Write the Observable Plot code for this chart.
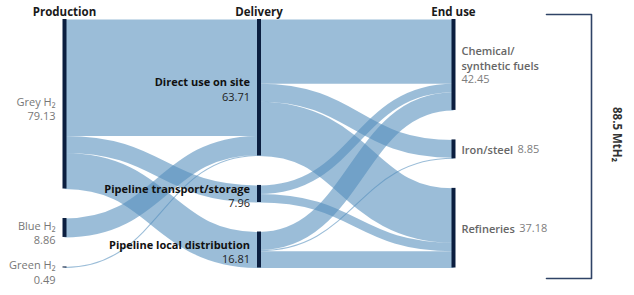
<!DOCTYPE html>
<html>
<head>
<meta charset="utf-8">
<script src="https://cdn.jsdelivr.net/npm/d3@7"></script>
<script src="https://cdn.jsdelivr.net/npm/@observablehq/plot@0.6"></script>
<style>
  html, body { margin: 0; padding: 0; background: #fff; }
  svg { display: block; }
</style>
</head>
<body>
<div id="chart"></div>
<script>
// ---------------- data ----------------
const stages = ["Production", "Delivery", "End use"];

const productionNodes = ["Grey H₂", "Blue H₂", "Green H₂"];
const productionValues = [79.13, 8.86, 0.49];

const deliveryNodes = ["Direct use on site", "Pipeline transport/storage", "Pipeline local distribution"];
const deliveryValues = [63.71, 7.96, 16.81];

const endUseNodes = ["Chemical/\nsynthetic fuels", "Iron/steel", "Refineries"];
const endUseValues = [42.45, 8.85, 37.18];

const linkSources = [
  "Grey H₂", "Grey H₂", "Grey H₂", "Blue H₂", "Green H₂",
  "Direct use on site", "Direct use on site", "Direct use on site",
  "Pipeline transport/storage", "Pipeline transport/storage",
  "Pipeline local distribution", "Pipeline local distribution", "Pipeline local distribution"
];
const linkTargets = [
  "Direct use on site", "Pipeline transport/storage", "Pipeline local distribution", "Direct use on site", "Direct use on site",
  "Chemical/\nsynthetic fuels", "Iron/steel", "Refineries",
  "Chemical/\nsynthetic fuels", "Refineries",
  "Chemical/\nsynthetic fuels", "Iron/steel", "Refineries"
];
const linkValues = [
  54.36, 7.96, 16.81, 8.86, 0.49,
  30.00, 8.35, 25.36,
  4.00, 3.96,
  8.45, 0.50, 7.86
];

const totalLabel = "88.5 MtH₂";

// ---------------- layout (sankey, computed in value units) ----------------
const fmt = d3.format(".2f");
const font = "'Open Sans', sans-serif";
const yTop = 19, yBottom = 267.5, padPx = 29.5;
const colPx = [64, 258.5, 453];

const columns = [[productionNodes, productionValues], [deliveryNodes, deliveryValues], [endUseNodes, endUseValues]];
const colTotal = d3.max(columns, ([, v]) => d3.sum(v));
const k = (yBottom - yTop - 2 * padPx) / colTotal;   // px per unit
const pad = padPx / k;
const D = colTotal + 2 * pad;
const xk = (colPx[2] - colPx[0]) / 2;

const nodes = [];
const byName = new Map();
columns.forEach(([names, vals], col) => {
  let y = 0;
  names.forEach((name, i) => {
    const n = {name, col, value: vals[i], y0: y, y1: y + vals[i], out: [], inc: []};
    n.mid = (n.y0 + n.y1) / 2;
    nodes.push(n);
    byName.set(name, n);
    y += vals[i] + pad;
  });
});

const links = linkSources.map((s, i) => ({source: byName.get(s), target: byName.get(linkTargets[i]), value: linkValues[i]}));
links.forEach(l => { l.source.out.push(l); l.target.inc.push(l); });
nodes.forEach(n => {
  let y = n.y0;
  n.out.sort((a, b) => a.target.y0 - b.target.y0).forEach(l => { l.sy = y + l.value / 2; y += l.value; });
  y = n.y0;
  n.inc.sort((a, b) => a.source.y0 - b.source.y0).forEach(l => { l.ty = y + l.value / 2; y += l.value; });
});

const prod = nodes.filter(n => n.col === 0);
const deliv = nodes.filter(n => n.col === 1);
const endU = nodes.filter(n => n.col === 2);

const ctx = document.createElement("canvas").getContext("2d");
const textWidth = (s, weight, size) => { ctx.font = `${weight} ${size}px 'Open Sans'`; return ctx.measureText(s).width; };

// bracket annotation around the total (pixel offsets converted to scale units)
const bx0 = 2 + 93 / xk, bx1 = 2 + 138 / xk;
const by0 = -5 / k, by1 = D + 10.5 / k;
const bracket = [{x: bx0, y: by0}, {x: bx1, y: by0}, {x: bx1, y: by1}, {x: bx0, y: by1}];

const endMarks = [];
endU.forEach(n => {
  const multi = n.name.includes("\n");
  endMarks.push(Plot.text([n], {
    x: "col", y: d => d.mid + (multi ? -7 / k : 0), text: "name",
    textAnchor: "start", dx: 8, lineHeight: 1.3, fontSize: 11, fontWeight: 600, fill: "#666"
  }));
  endMarks.push(Plot.text([n], {
    x: "col", y: d => d.mid + (multi ? 15 / k : 0), text: d => fmt(d.value),
    textAnchor: "start", dx: multi ? 8 : 8 + textWidth(n.name, 600, 11) + 4.5,
    fontSize: 11, fontWeight: 400, fill: "#7d7d7d"
  }));
});

const chart = Plot.plot({
  width: 634,
  height: 295,
  margin: 0,
  style: {fontFamily: font, background: "#fff", overflow: "visible"},
  x: {axis: null, domain: [0, 2], range: [colPx[0], colPx[2]]},
  y: {axis: null, domain: [0, D], range: [yTop, yBottom]},
  marks: [
    Plot.link(links, {
      x1: d => d.source.col, y1: "sy", x2: d => d.target.col, y2: "ty",
      curve: "bump-x", stroke: "rgb(82,142,188)", strokeOpacity: 0.58,
      strokeWidth: d => d.value * k
    }),
    Plot.ruleX(nodes, {x: "col", y1: "y0", y2: "y1", stroke: "#0b1e3f", strokeWidth: 4}),
    Plot.text(stages, {x: (d, i) => i, frameAnchor: "top", dy: 7, text: d => d, fontWeight: 700, fontSize: 11.5, fill: "#1a1a1a"}),
    Plot.text(prod, {
      x: "col", y: "mid", text: d => `${d.name}\n${fmt(d.value)}`,
      textAnchor: "end", dx: -9, dy: 4.5, lineHeight: 1.28, fontSize: 11, fill: "#777"
    }),
    Plot.text(deliv, {x: "col", y: "mid", text: "name", textAnchor: "end", dx: -9, dy: -5, fontWeight: 700, fontSize: 11, fill: "#111"}),
    Plot.text(deliv, {x: "col", y: "mid", text: d => fmt(d.value), textAnchor: "end", dx: -9, dy: 9.5, fontWeight: 400, fontSize: 11, fill: "#222"}),
    ...endMarks,
    Plot.line(bracket, {x: "x", y: "y", stroke: "#2f4366", strokeWidth: 1.6}),
    Plot.text([totalLabel], {frameAnchor: "right", dx: -18, dy: 14, rotate: 90, text: d => d, fontWeight: 700, fontSize: 11.5, fill: "#333"})
  ]
});
document.getElementById("chart").append(chart);
</script>
</body>
</html>
